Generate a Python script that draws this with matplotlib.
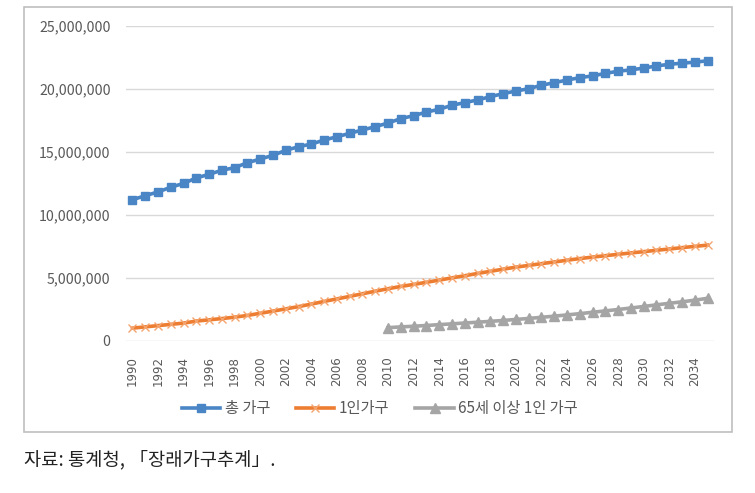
import matplotlib
matplotlib.use("Agg")
import matplotlib.pyplot as plt
from matplotlib.ticker import FuncFormatter, FixedLocator
from matplotlib.patches import Rectangle

plt.rcParams['font.family'] = ['Noto Sans CJK KR', 'DejaVu Sans']

years = list(range(1990, 2036))
total = [11.21, 11.53, 11.83, 12.20, 12.51, 12.94, 13.23, 13.55, 13.76, 14.15,
         14.44, 14.74, 15.13, 15.42, 15.63, 15.95, 16.21, 16.48, 16.75, 17.01,
         17.30, 17.65, 17.88, 18.17, 18.39, 18.71, 18.92, 19.13, 19.39, 19.63,
         19.84, 20.02, 20.30, 20.50, 20.71, 20.90, 21.04, 21.24, 21.41, 21.52,
         21.66, 21.83, 21.96, 22.05, 22.13, 22.24]
single = [1.02, 1.12, 1.22, 1.32, 1.42, 1.58, 1.68, 1.78, 1.89, 2.03,
          2.20, 2.37, 2.55, 2.73, 2.93, 3.14, 3.34, 3.54, 3.75, 3.95,
          4.15, 4.33, 4.49, 4.66, 4.83, 5.01, 5.18, 5.36, 5.53, 5.70,
          5.86, 6.00, 6.14, 6.27, 6.41, 6.54, 6.66, 6.77, 6.88, 6.99,
          7.09, 7.20, 7.30, 7.41, 7.51, 7.61]
elderly_years = list(range(2010, 2036))
elderly = [1.06, 1.12, 1.17, 1.23, 1.30, 1.36, 1.43, 1.49, 1.56, 1.63,
           1.71, 1.79, 1.88, 1.97, 2.07, 2.17, 2.28, 2.39, 2.50, 2.62,
           2.74, 2.87, 2.99, 3.11, 3.24, 3.39]
series_names = ['총 가구', '1인가구', '65세 이상 1인 가구']
caption = '자료: 통계청, 「장래가구추계」.'

W, H = 755, 493
fig = plt.figure(figsize=(W / 100, H / 100), dpi=100)
fig.patch.set_facecolor('white')

# chart frame
fig.add_artist(Rectangle((24 / W, 1 - 432 / H), (732 - 24) / W, (432 - 7) / H,
                         transform=fig.transFigure, fill=False,
                         edgecolor='#bfbfbf', linewidth=1.2))

ax = fig.add_axes([126 / W, 1 - 341 / H, 588 / W, 315 / H])
x_idx = list(range(len(years)))
e_idx = [years.index(y) for y in elderly_years]

blue = '#4A85C6'
orange = '#ED7D31'
gray = '#A5A5A5'

ax.plot(x_idx, [v * 1e6 for v in total], color=blue, lw=2.6, marker='s',
        markersize=6.2, markeredgecolor=blue, markerfacecolor=blue,
        label=series_names[0], zorder=3)
ax.plot(x_idx, [v * 1e6 for v in single], color=orange, lw=2.6, marker='x',
        markersize=6, markeredgewidth=1.0, markeredgecolor='#F4A46E',
        label=series_names[1], zorder=3)
ax.plot(e_idx, [v * 1e6 for v in elderly], color=gray, lw=2.6, marker='^',
        markersize=6.5, markeredgecolor=gray, markerfacecolor=gray,
        label=series_names[2], zorder=3)

ax.set_xlim(-0.5, len(years) - 0.5)
ax.set_ylim(0, 25e6)
ax.yaxis.set_major_locator(FixedLocator([0, 5e6, 10e6, 15e6, 20e6, 25e6]))
ax.yaxis.set_major_formatter(FuncFormatter(lambda v, p: f'{int(v):,}'))
ax.grid(axis='y', color='#d9d9d9', linewidth=1.0, zorder=0)
ax.set_axisbelow(True)
for s in ax.spines.values():
    s.set_visible(False)

tick_pos = [i for i, y in enumerate(years) if y % 2 == 0]
ax.set_xticks(tick_pos)
ax.set_xticklabels([str(years[i]) for i in tick_pos], rotation=90,
                   fontsize=8.5, color='#595959', family=['DejaVu Sans'])
ax.tick_params(axis='x', length=0, pad=11)
ax.tick_params(axis='y', length=0, pad=11, labelsize=10.2, labelcolor='#595959')

leg = fig.legend(loc='center', bbox_to_anchor=(380 / W, 1 - 409 / H), ncol=3,
                 frameon=False, fontsize=11, handlelength=2.5,
                 handletextpad=0.3, columnspacing=1.7, labelcolor='#595959')

fig.text(24 / W, 1 - 460 / H, caption, ha='left', va='center',
         fontsize=13.5, color='#222222')

fig.savefig('out.png', dpi=100, facecolor='white')
